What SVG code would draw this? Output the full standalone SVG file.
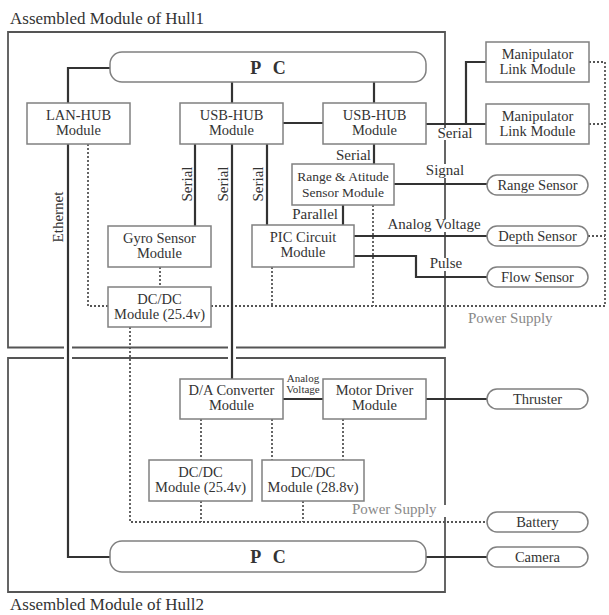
<svg xmlns="http://www.w3.org/2000/svg" width="609" height="615" viewBox="0 0 609 615">
<style>
text{font-family:"Liberation Serif","Times New Roman",serif;fill:#333;font-size:15px}
.c{text-anchor:middle}
.n{font-size:14.5px}
.box{fill:#fff;stroke:#808080;stroke-width:1.5}
.hull{fill:none;stroke:#555;stroke-width:1.8}
.ln{fill:none;stroke:#333;stroke-width:2.2}
.dot{fill:none;stroke:#555;stroke-width:1.8;stroke-dasharray:2 2}
.bg{fill:#fff}
.pc{font-size:18px;font-weight:bold;word-spacing:8px}
.gray{fill:#888}
</style>
<rect width="609" height="615" fill="#fff"/>
<text x="10" y="24" style="font-size:17px">Assembled Module of Hull1</text>
<text x="10" y="610" style="font-size:17px">Assembled Module of Hull2</text>
<g id="hulls">
<path class="hull" d="M236,347.5 H445 V32 H8 V347.5 H64 M72,347.5 H228"/>
<path class="hull" d="M236,358 H445 V592 H8 V358 H64 M72,358 H228"/>
</g>
<g id="connectors">
<path class="dot" d="M88,144 V306 H108"/>
<path class="dot" d="M160,267 V287"/>
<path class="dot" d="M211,306 H605 V62 H589"/>
<path class="dot" d="M589,124 H605"/>
<path class="dot" d="M588,236 H605"/>
<path class="dot" d="M272,267 V306"/>
<path class="dot" d="M373,205 V306"/>
<path class="dot" d="M130,327 V522 H487"/>
<path class="dot" d="M201,419 V460"/>
<path class="dot" d="M272,419 V460"/>
<path class="dot" d="M343,419 V460"/>
<path class="dot" d="M201,501 V522"/>
<path class="dot" d="M303,501 V522"/>
<path class="ln" d="M110,68 H68 V103"/>
<path class="ln" d="M232,82 V103"/>
<path class="ln" d="M374,82 V103"/>
<path class="ln" d="M283,123 H323"/>
<path class="ln" d="M426,124 H486"/>
<path class="ln" d="M466,124 V62 H486"/>
<path class="ln" d="M374,144 V164"/>
<path class="ln" d="M394,184 H487"/>
<path class="ln" d="M343,205 V225"/>
<path class="ln" d="M354,236 H487"/>
<path class="ln" d="M354,256 H416 V277 H487"/>
<path class="ln" d="M195,144 V226"/>
<path class="ln" d="M232,144 V379"/>
<path class="ln" d="M267,144 V225"/>
<path class="ln" d="M68,144 V557 H110"/>
<path class="ln" d="M283,399 H323"/>
<path class="ln" d="M426,399 H487"/>
<path class="ln" d="M426,557 H487"/>
<rect class="bg" x="436" y="128" width="38" height="12"/>
<text class="c" x="455" y="138">Serial</text>
<text x="371" y="160" text-anchor="end">Serial</text>
<rect class="bg" x="426" y="164" width="40" height="14"/>
<text class="c" x="445" y="175">Signal</text>
<text x="338" y="219" text-anchor="end">Parallel</text>
<rect class="bg" x="385" y="219" width="98" height="13"/>
<text class="c" x="434" y="229">Analog Voltage</text>
<rect class="bg" x="428" y="258" width="36" height="13"/>
<text class="c" x="446" y="268">Pulse</text>
<text x="468" y="323" class="gray">Power Supply</text>
<rect class="bg" x="438" y="505" width="10" height="12"/>
<text x="352" y="514" class="gray">Power Supply</text>
<text transform="translate(192,184) rotate(-90)" class="c">Serial</text>
<text transform="translate(228,184) rotate(-90)" class="c">Serial</text>
<text transform="translate(263,184) rotate(-90)" class="c">Serial</text>
<text transform="translate(63,217) rotate(-90)" class="c">Ethernet</text>
<text class="c" x="303" y="382" style="font-size:11px">Analog</text>
<text class="c" x="303" y="393" style="font-size:11px">Voltage</text>
</g>
<g id="pc1"><rect class="box" x="110" y="52" width="316" height="30" rx="12"/><text class="c pc" x="268" y="74">P C</text></g>
<g id="lanhub"><rect class="box" x="27" y="103" width="103" height="41"/><text class="c n" x="78.5" y="120">LAN-HUB</text><text class="c n" x="78.5" y="135">Module</text></g>
<g id="usbhub1"><rect class="box" x="180" y="103" width="103" height="41"/><text class="c n" x="231.5" y="120">USB-HUB</text><text class="c n" x="231.5" y="135">Module</text></g>
<g id="usbhub2"><rect class="box" x="323" y="103" width="103" height="41"/><text class="c n" x="374.5" y="120">USB-HUB</text><text class="c n" x="374.5" y="135">Module</text></g>
<g id="manip1"><rect class="box" x="486" y="42" width="103" height="40"/><text class="c n" x="537.5" y="59">Manipulator</text><text class="c n" x="537.5" y="74">Link Module</text></g>
<g id="manip2"><rect class="box" x="486" y="104" width="103" height="40"/><text class="c n" x="537.5" y="121">Manipulator</text><text class="c n" x="537.5" y="136">Link Module</text></g>
<g id="rangeatt"><rect class="box" x="292" y="164" width="102" height="41"/><text class="c" x="343" y="181" style="font-size:13.5px">Range &amp; Atitude</text><text class="c" x="343" y="197" style="font-size:13.5px">Sensor Module</text></g>
<g id="gyro"><rect class="box" x="108" y="226" width="103" height="41"/><text class="c n" x="159.5" y="243">Gyro Sensor</text><text class="c n" x="159.5" y="258">Module</text></g>
<g id="pic"><rect class="box" x="252" y="225" width="102" height="42"/><text class="c n" x="303" y="242">PIC Circuit</text><text class="c n" x="303" y="257">Module</text></g>
<g id="dcdc1"><rect class="box" x="108" y="287" width="103" height="40"/><text class="c n" x="159.5" y="304">DC/DC</text><text class="c n" x="159.5" y="319">Module (25.4v)</text></g>
<g id="rangesensor"><rect class="box" x="487" y="175" width="101" height="20" rx="10"/><text class="c n" x="537.5" y="190">Range Sensor</text></g>
<g id="depthsensor"><rect class="box" x="487" y="226" width="101" height="20" rx="10"/><text class="c n" x="537.5" y="241">Depth Sensor</text></g>
<g id="flowsensor"><rect class="box" x="487" y="267" width="101" height="20" rx="10"/><text class="c n" x="537.5" y="282">Flow Sensor</text></g>
<g id="dac"><rect class="box" x="180" y="379" width="103" height="40"/><text class="c n" x="231.5" y="395">D/A Converter</text><text class="c n" x="231.5" y="410">Module</text></g>
<g id="motor"><rect class="box" x="323" y="379" width="103" height="40"/><text class="c n" x="374.5" y="395">Motor Driver</text><text class="c n" x="374.5" y="410">Module</text></g>
<g id="thruster"><rect class="box" x="487" y="389" width="101" height="20" rx="10"/><text class="c n" x="537.5" y="404">Thruster</text></g>
<g id="dcdc2"><rect class="box" x="149" y="460" width="103" height="41"/><text class="c n" x="200.5" y="477">DC/DC</text><text class="c n" x="200.5" y="492">Module (25.4v)</text></g>
<g id="dcdc3"><rect class="box" x="262" y="460" width="102" height="41"/><text class="c n" x="313" y="477">DC/DC</text><text class="c n" x="313" y="492">Module (28.8v)</text></g>
<g id="battery"><rect class="box" x="487" y="512" width="101" height="20" rx="10"/><text class="c n" x="537.5" y="527">Battery</text></g>
<g id="camera"><rect class="box" x="487" y="547" width="101" height="20" rx="10"/><text class="c n" x="537.5" y="562">Camera</text></g>
<g id="pc2"><rect class="box" x="110" y="541" width="316" height="31" rx="12"/><text class="c pc" x="268" y="563">P C</text></g>
</svg>
